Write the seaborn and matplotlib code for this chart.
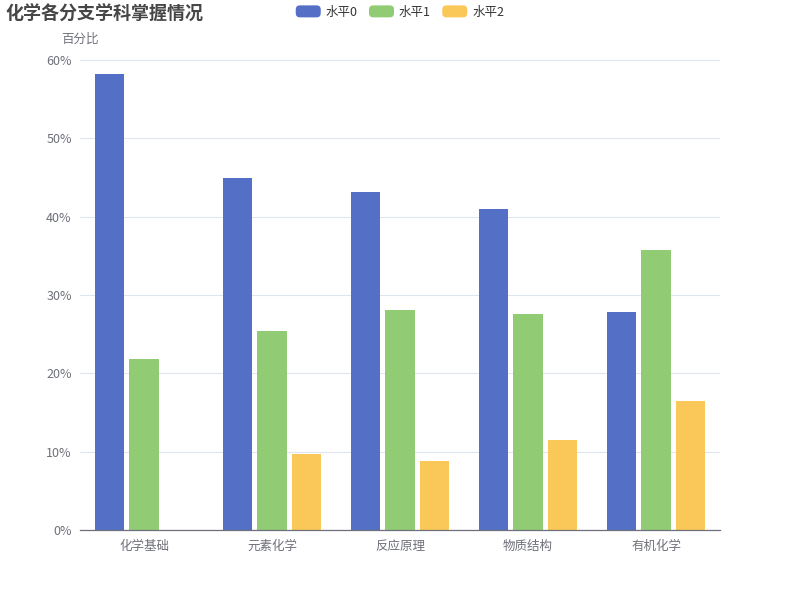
import matplotlib
matplotlib.use("Agg")
import matplotlib.pyplot as plt
import seaborn as sns
import pandas as pd
import numpy as np
from matplotlib.ticker import FuncFormatter, FixedLocator
from matplotlib.legend_handler import HandlerPatch
from matplotlib.patches import FancyBboxPatch

categories = ["化学基础", "元素化学", "反应原理", "物质结构", "有机化学"]
series_names = ["水平0", "水平1", "水平2"]
level0 = [58.2, 44.9, 43.2, 41.0, 27.8]
level1 = [21.8, 25.4, 28.1, 27.6, 35.7]
level2 = [0.0, 9.7, 8.8, 11.5, 16.5]
colors = ["#5470c6", "#91cc75", "#fac858"]
yticks = [0, 10, 20, 30, 40, 50, 60]

sns.set_theme(style="white")
plt.rcParams['font.family'] = ['Noto Sans CJK SC', 'DejaVu Sans']

rows = []
for name, vals in zip(series_names, [level0, level1, level2]):
    for c, v in zip(categories, vals):
        rows.append({"cat": c, "series": name, "value": v})
df = pd.DataFrame(rows)

fig = plt.figure(figsize=(8, 6), dpi=100)
ax = fig.add_axes([0.1, 0.1167, 0.8, 0.7833])

sns.barplot(data=df, x="cat", y="value", hue="series", order=categories,
            hue_order=series_names, palette=colors, width=0.8, gap=0.15,
            linewidth=0, saturation=1, ax=ax, legend=True)

ax.set_ylim(0, 60)
ax.set_xlim(-0.5, len(categories) - 0.5)
ax.yaxis.set_major_locator(FixedLocator(yticks))
ax.yaxis.set_major_formatter(FuncFormatter(lambda v, p: f"{int(v)}%"))
ax.grid(axis="y", color="#e0e6f1", linewidth=0.8)
ax.set_axisbelow(True)
for s in ["top", "right", "left"]:
    ax.spines[s].set_visible(False)
ax.spines["bottom"].set_color("#6e7079")
ax.spines["bottom"].set_linewidth(0.9)

ax.tick_params(axis="y", length=0, labelsize=9, labelcolor="#6e7079", pad=6)
ax.tick_params(axis="x", which="major", length=0, labelsize=9, labelcolor="#6e7079", pad=7)
ax.set_xticks(np.arange(-0.5, len(categories), 1.0), minor=True)
ax.tick_params(axis="x", which="minor", length=5, color="#6e7079", width=0.9)
ax.set_xlabel("")
ax.set_ylabel("")

ax.text(0, 1.045, "百分比", transform=ax.transAxes, ha="center", va="center",
        fontsize=9, color="#6e7079")

fig.text(0.0075, 0.977, "化学各分支学科掌握情况", ha="left", va="center",
         fontsize=13, fontweight="bold", color="#464646")


class RoundHandler(HandlerPatch):
    def create_artists(self, legend, orig_handle, xdescent, ydescent, width, height, fontsize, trans):
        p = FancyBboxPatch((-xdescent, -ydescent), width, height,
                           boxstyle="round,pad=0,rounding_size=3",
                           facecolor=orig_handle.get_facecolor(), edgecolor="none",
                           transform=trans)
        return [p]


handles, labels = ax.get_legend_handles_labels()
ax.get_legend().remove()
leg = fig.legend(handles, labels, loc="center", bbox_to_anchor=(0.5, 0.98), ncol=3,
                 frameon=False, fontsize=9, handlelength=2.0, handleheight=1.1,
                 handletextpad=0.4, columnspacing=0.9, labelcolor="#333333",
                 handler_map={h: RoundHandler() for h in handles})

fig.savefig("out.png", dpi=100, facecolor="white")
